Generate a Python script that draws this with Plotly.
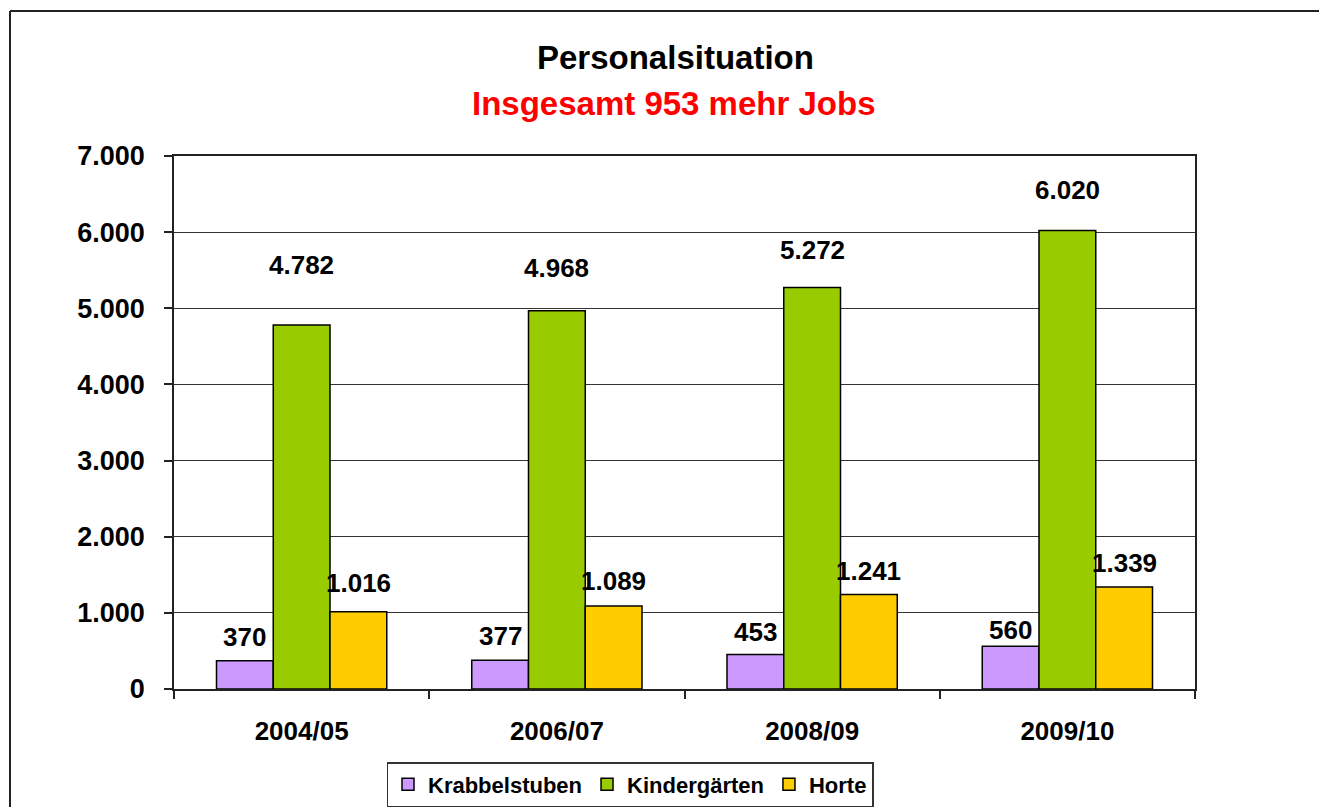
import plotly.graph_objects as go

categories = ["2004/05", "2006/07", "2008/09", "2009/10"]
series_names = ["Krabbelstuben", "Kindergärten", "Horte"]
krabbelstuben = [370, 377, 453, 560]
kindergaerten = [4782, 4968, 5272, 6020]
horte = [1016, 1089, 1241, 1339]
y_ticks = [0, 1000, 2000, 3000, 4000, 5000, 6000, 7000]
y_tick_labels = ["0", "1.000", "2.000", "3.000", "4.000", "5.000", "6.000", "7.000"]
title_1 = "Personalsituation"
title_2 = "Insgesamt 953 mehr Jobs"

# style
colors = ["#CC99FF", "#99CC00", "#FFCC00"]
label_yshift = [[24, 24, 23, 16], [60, 43, 38, 41], [29, 25, 24, 24]]
FONT = "Liberation Sans, Arial, sans-serif"

OFF = 8  # page body margin offset
W, H = 1327 - OFF, 807 - OFF
# target page pixel positions of plot area
PL, PR, PT, PB = 174, 1195, 156, 689
ML = PL - OFF
MT = PT - OFF
MR = W - (PR - OFF)
MB = H - (PB - OFF)
pw = PR - PL
ph = PB - PT

def fmt(v):
    return f"{v:,}".replace(",", ".")

all_series = [krabbelstuben, kindergaerten, horte]
fig = go.Figure()
for name, vals, col in zip(series_names, all_series, colors):
    fig.add_trace(go.Bar(
        x=categories, y=vals, name=name,
        marker=dict(color=col, line=dict(color="black", width=1.5)),
        hoverinfo="skip",
    ))

bargap = 0.333
cat_px = pw / len(categories)
bar_px = cat_px * (1 - bargap) / 3
annotations = []
for i, vals in enumerate(all_series):
    for j, v in enumerate(vals):
        annotations.append(dict(
            x=categories[j], y=v, xref="x", yref="y", text=fmt(v),
            showarrow=False, xshift=(i - 1) * bar_px, yshift=label_yshift[i][j],
            yanchor="middle", xanchor="center",
            font=dict(family=FONT, size=26, color="black", weight="bold"),
        ))

def px_x(px):
    return (px - PL) / pw

def px_y(py):
    return (PB - py) / ph

annotations.append(dict(text=title_1, x=px_x(675), y=px_y(58), xref="paper", yref="paper",
                        showarrow=False, xanchor="center", yanchor="middle",
                        font=dict(family=FONT, size=33, color="black", weight="bold")))
annotations.append(dict(text=title_2, x=px_x(674), y=px_y(103), xref="paper", yref="paper",
                        showarrow=False, xanchor="center", yanchor="middle",
                        font=dict(family=FONT, size=33, color="#FF0000", weight="bold")))

frame_line = dict(color="#222222", width=2)
shapes = [
    dict(type="line", xref="paper", yref="paper",
         x0=px_x(10), x1=px_x(1340), y0=px_y(11), y1=px_y(11), line=frame_line, layer="below"),
    dict(type="line", xref="paper", yref="paper",
         x0=px_x(10), x1=px_x(10), y0=px_y(11), y1=px_y(820), line=frame_line, layer="below"),
]

fig.update_layout(
    width=W, height=H,
    margin=dict(l=ML, r=MR, t=MT, b=MB, autoexpand=False),
    paper_bgcolor="white", plot_bgcolor="white",
    barmode="group", bargap=bargap, bargroupgap=0,
    font=dict(family=FONT, color="black"),
    annotations=annotations, shapes=shapes,
    showlegend=True,
    legend=dict(orientation="h", x=px_x(630), y=px_y(762), xanchor="center", yanchor="top",
                bordercolor="#333333", borderwidth=1.5, bgcolor="white",
                font=dict(family=FONT, size=22, color="black", weight="bold"),
                itemclick=False, itemdoubleclick=False, traceorder="normal"),
    xaxis=dict(type="category", showline=True, linecolor="#222222", linewidth=1.5, mirror=True,
               ticks="outside", tickson="boundaries", ticklen=8, tickcolor="#222222", tickwidth=1.5,
               showgrid=False, ticklabelstandoff=18,
               tickfont=dict(family=FONT, size=26, color="black", weight="bold")),
    yaxis=dict(range=[0, 7000], tickvals=y_ticks, ticktext=y_tick_labels,
               showline=True, linecolor="#222222", linewidth=1.5, mirror=True,
               ticks="outside", ticklen=8, tickcolor="#222222", tickwidth=1.5,
               showgrid=True, gridcolor="#333333", gridwidth=1.2, zeroline=False,
               ticklabelstandoff=14,
               tickfont=dict(family=FONT, size=27, color="black", weight="bold")),
)

fig.write_html("out.html", post_script="document.documentElement.style.overflow='hidden'; document.body.style.overflow='hidden';")
